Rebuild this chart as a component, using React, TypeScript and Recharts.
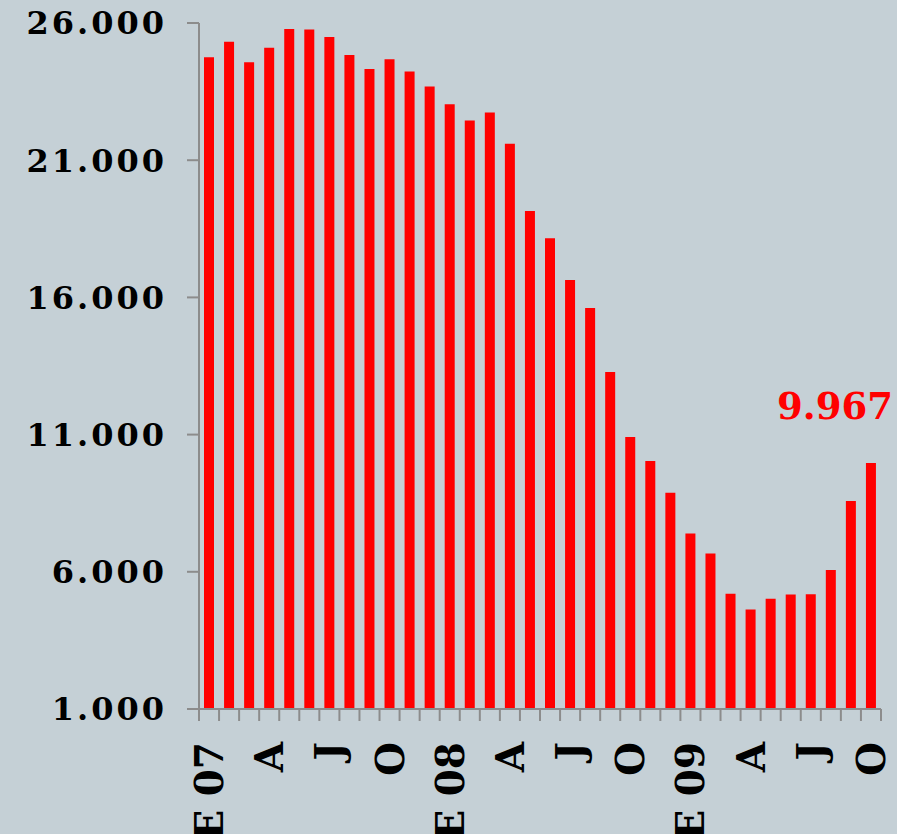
import React from 'react';
import { BarChart, Bar, XAxis, YAxis } from 'recharts';

const MONTHS = [
  'E 07', 'F 07', 'M 07', 'A 07', 'M 07', 'J 07', 'J 07', 'A 07', 'S 07', 'O 07', 'N 07', 'D 07',
  'E 08', 'F 08', 'M 08', 'A 08', 'M 08', 'J 08', 'J 08', 'A 08', 'S 08', 'O 08', 'N 08', 'D 08',
  'E 09', 'F 09', 'M 09', 'A 09', 'M 09', 'J 09', 'J 09', 'A 09', 'S 09', 'O 09',
];

const VALUES = [
  24750, 25320, 24570, 25100, 25780, 25760, 25490, 24830, 24320, 24680, 24230, 23690,
  23040, 22450, 22740, 21600, 19150, 18160, 16630, 15610, 13280, 10910, 10040, 8880,
  7400, 6670, 5200, 4630, 5020, 5170, 5180, 6070, 8580, 9967,
];

// shown every third month
const TICK_LABELS: Record<number, string> = {
  0: 'E 07', 3: 'A', 6: 'J', 9: 'O',
  12: 'E 08', 15: 'A', 18: 'J', 21: 'O',
  24: 'E 09', 27: 'A', 30: 'J', 33: 'O',
};

const Y_TICKS = [1000, 6000, 11000, 16000, 21000, 26000];

const data = MONTHS.map((m, i) => ({ month: m, value: VALUES[i] }));

const W = 897;
const H = 834;
const LEFT = 199;
const RIGHT = 16;
const BAND = (W - LEFT - RIGHT) / MONTHS.length;
const AXIS = '#8c8c8c';
const FONT = '"DejaVu Serif", serif';

const fmt = (v: number) => v.toLocaleString('en-US').replace(/,/g, '.');

const MonthTick = (props: any) => {
  const { x, y, index } = props;
  const label = TICK_LABELS[index];
  const last = index === MONTHS.length - 1;
  return (
    <g>
      <line x1={x - BAND / 2} x2={x - BAND / 2} y1={y} y2={y + 12} stroke={AXIS} strokeWidth={2} />
      {last && <line x1={x + BAND / 2} x2={x + BAND / 2} y1={y} y2={y + 12} stroke={AXIS} strokeWidth={2} />}
      {label && (
        <text
          x={x}
          y={y + 33}
          transform={`rotate(-90, ${x}, ${y + 33})`}
          textAnchor="end"
          dominantBaseline="central"
          fontFamily={FONT}
          fontWeight="bold"
          fontSize={39}
          fill="#000"
        >
          {label}
        </text>
      )}
    </g>
  );
};

const lastLabel = (props: any) => {
  const { x, y, width, index, value } = props;
  if (index !== VALUES.length - 1) return null;
  return (
    <text
      x={x + width + 17}
      y={y - 44}
      textAnchor="end"
      fontFamily={FONT}
      fontWeight="bold"
      fontSize={37}
      fill="#ff0000"
    >
      {fmt(value)}
    </text>
  );
};

export default function App() {
  return (
    <div style={{ position: 'fixed', left: 0, top: 0, width: W, height: H, background: '#c5d0d6' }}>
      <BarChart width={W} height={H} data={data} margin={{ top: 23, right: RIGHT, bottom: 0, left: 0 }} barSize={10}>
        <XAxis
          dataKey="month"
          interval={0}
          height={125}
          tickSize={0}
          tickMargin={0}
          tickLine={false}
          axisLine={{ stroke: AXIS, strokeWidth: 2 }}
          tick={<MonthTick />}
        />
        <YAxis
          width={LEFT}
          domain={[1000, 26000]}
          ticks={Y_TICKS}
          tickFormatter={fmt}
          tickSize={12}
          tickMargin={20}
          axisLine={{ stroke: AXIS, strokeWidth: 2 }}
          tickLine={{ stroke: AXIS, strokeWidth: 2 }}
          tick={{ fill: '#000', fontFamily: FONT, fontWeight: 'bold', fontSize: 32, letterSpacing: 3 }}
        />
        <Bar dataKey="value" fill="#ff0000" isAnimationActive={false} label={lastLabel} />
      </BarChart>
    </div>
  );
}
